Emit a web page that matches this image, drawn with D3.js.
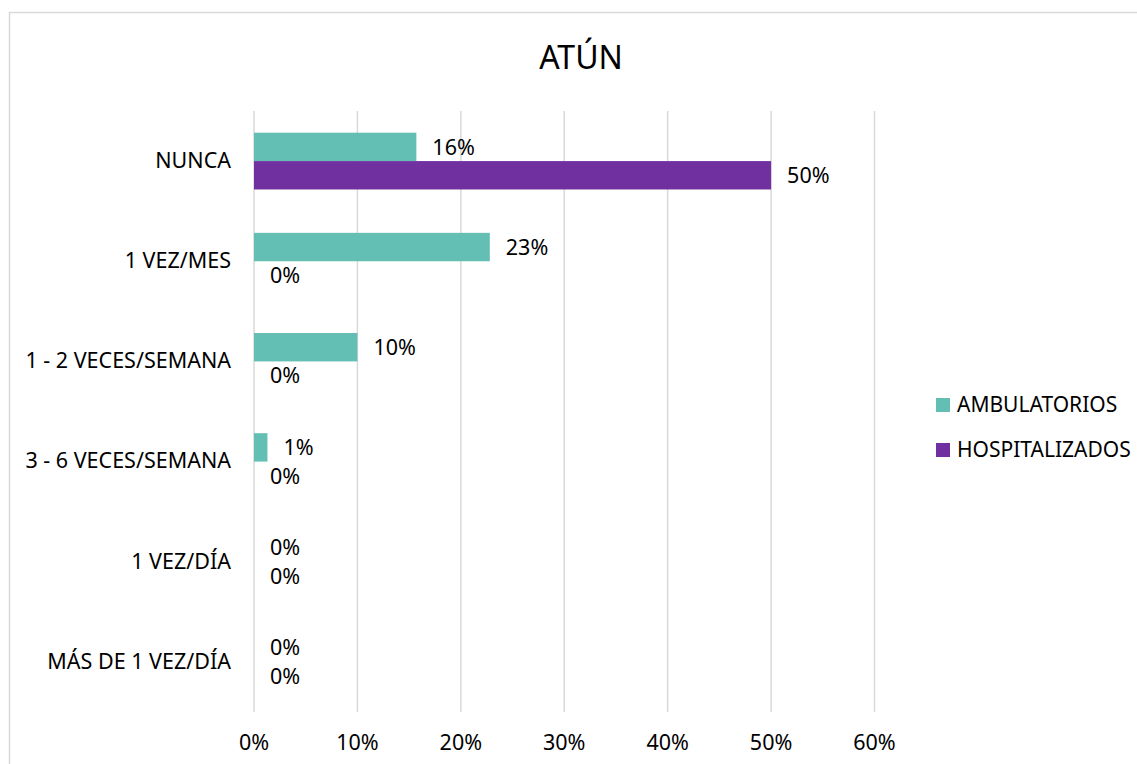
<!DOCTYPE html>
<html>
<head>
<meta charset="utf-8">
<script src="https://cdn.jsdelivr.net/npm/d3@7"></script>
<style>
  body { margin: 0; background: #fff; }
  svg text { font-family: 'Noto Sans', 'Open Sans', sans-serif; fill: #000; }
</style>
</head>
<body>
<div id="chart"></div>
<script>
const W = 1137;
const H = 764;

const categories = ['NUNCA', '1 VEZ/MES', '1 - 2 VECES/SEMANA', '3 - 6 VECES/SEMANA', '1 VEZ/DÍA', 'MÁS DE 1 VEZ/DÍA'];
const seriesNames = ['AMBULATORIOS', 'HOSPITALIZADOS'];
const ambulatorios = [0.157, 0.228, 0.10, 0.013, 0, 0];
const hospitalizados = [0.50, 0, 0, 0, 0, 0];
const xTicks = [0, 0.1, 0.2, 0.3, 0.4, 0.5, 0.6];
const colors = ['#63BEB3', '#7030A0'];

const rows = categories.map((c, i) => ({ cat: c, values: [ambulatorios[i], hospitalizados[i]] }));

const svg = d3.select('#chart')
  .append('svg')
  .attr('width', W)
  .attr('height', H);

// chart frame
svg.append('rect')
  .attr('x', 9.5)
  .attr('y', 12.5)
  .attr('width', W + 20)
  .attr('height', H + 20)
  .attr('fill', 'none')
  .attr('stroke', '#D9D9D9')
  .attr('stroke-width', 1.5);

const x = d3.scaleLinear().domain([0, 0.6]).range([254, 874.5]);
const y = d3.scaleBand().domain(categories).range([111, 712]).paddingInner(0.433).paddingOuter(0.2165);
const ySub = d3.scaleBand().domain([0, 1]).range([0, y.bandwidth()]);
const pct = d3.format('.0%');

// gridlines
svg.append('g')
  .selectAll('line')
  .data(xTicks)
  .enter()
  .append('line')
  .attr('x1', d => x(d))
  .attr('x2', d => x(d))
  .attr('y1', 111)
  .attr('y2', 712)
  .attr('stroke', '#D9D9D9')
  .attr('stroke-width', 1.5);

// x tick labels
svg.append('g')
  .selectAll('text')
  .data(xTicks)
  .enter()
  .append('text')
  .attr('x', d => x(d))
  .attr('y', 744)
  .attr('text-anchor', 'middle')
  .attr('dominant-baseline', 'middle')
  .style('font-size', '21.5px')
  .text(d => pct(d));

// category labels
svg.append('g')
  .selectAll('text')
  .data(categories)
  .enter()
  .append('text')
  .attr('x', 231)
  .attr('y', d => y(d) + y.bandwidth() / 2 + 1)
  .attr('text-anchor', 'end')
  .attr('dominant-baseline', 'middle')
  .style('font-size', '21.5px')
  .text(d => d);

const groups = svg.append('g')
  .selectAll('g')
  .data(rows)
  .enter()
  .append('g')
  .attr('transform', d => `translate(0,${y(d.cat)})`);

groups.selectAll('rect')
  .data(d => d.values)
  .enter()
  .append('rect')
  .attr('x', x(0))
  .attr('y', (d, i) => ySub(i))
  .attr('width', d => x(d) - x(0))
  .attr('height', ySub.bandwidth())
  .attr('fill', (d, i) => colors[i]);

groups.selectAll('text')
  .data(d => d.values)
  .enter()
  .append('text')
  .attr('x', d => x(d) + 16)
  .attr('y', (d, i) => ySub(i) + ySub.bandwidth() / 2 + 2)
  .attr('dominant-baseline', 'middle')
  .style('font-size', '21.5px')
  .text(d => pct(d));

// title
svg.append('text')
  .attr('x', 581)
  .attr('y', 60)
  .attr('text-anchor', 'middle')
  .attr('dominant-baseline', 'middle')
  .style('font-size', '32px')
  .text('ATÚN');

// legend
const legend = svg.append('g')
  .selectAll('g')
  .data(seriesNames)
  .enter()
  .append('g')
  .attr('transform', (d, i) => `translate(936,${398 + i * 45})`);

legend.append('rect')
  .attr('width', 14)
  .attr('height', 14)
  .attr('fill', (d, i) => colors[i]);

legend.append('text')
  .attr('x', 21)
  .attr('y', 8)
  .attr('dominant-baseline', 'middle')
  .style('font-size', '21px')
  .text(d => d);
</script>
</body>
</html>
